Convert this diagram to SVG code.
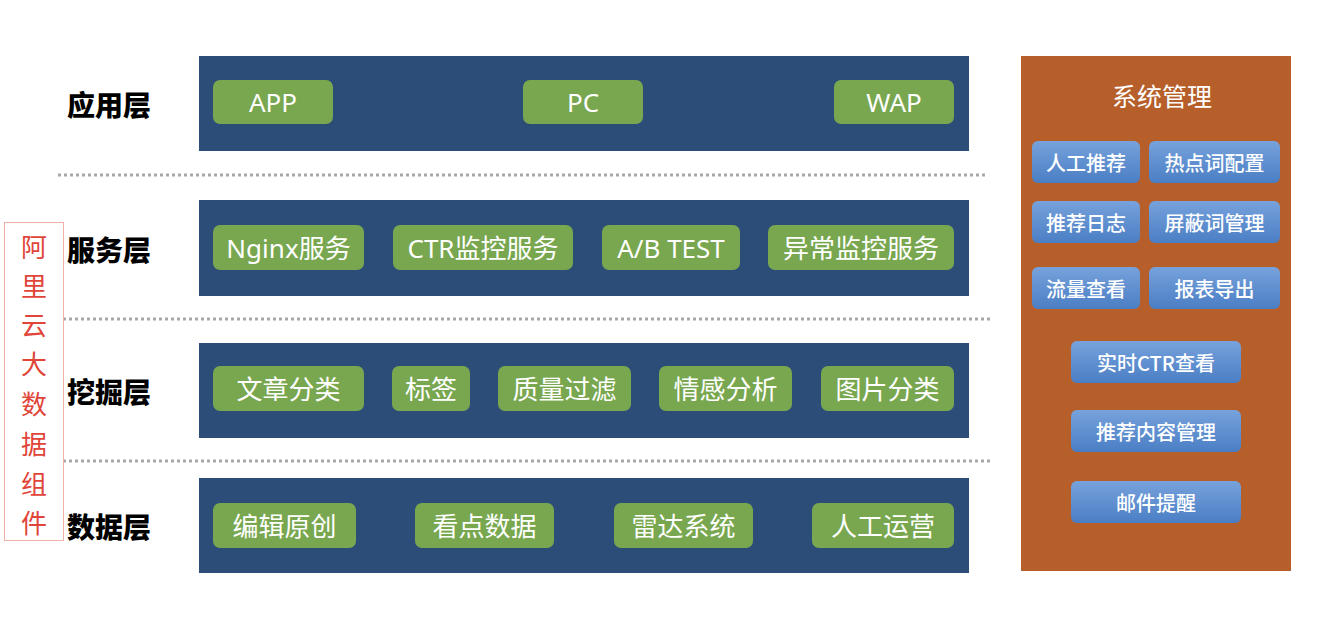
<svg xmlns="http://www.w3.org/2000/svg" width="1324" height="628" viewBox="0 0 1324 628">
<defs>
<linearGradient id="bg" x1="0" y1="0" x2="0" y2="1">
<stop offset="0" stop-color="#77a2dc"/>
<stop offset="1" stop-color="#4a7ec4"/>
</linearGradient>
<style>
.layer{fill:#2c4d77;}
.g{fill:#78a74f;}
.gt{fill:#fff;font-family:"Noto Sans","Noto Sans CJK SC",sans-serif;font-size:26px;text-anchor:middle;dominant-baseline:central;}
.lbl{fill:#000;font-family:"Noto Sans CJK SC",sans-serif;font-size:28px;font-weight:900;dominant-baseline:central;}
.red{fill:#e0453a;font-family:"Noto Sans CJK SC",sans-serif;font-size:26px;text-anchor:middle;dominant-baseline:central;}
.b{fill:url(#bg);}
.bt{fill:#fff;font-family:"Noto Sans CJK SC",sans-serif;font-size:20px;font-weight:500;text-anchor:middle;dominant-baseline:central;}
.title{fill:#fff;font-family:"Noto Sans CJK SC",sans-serif;font-size:25px;text-anchor:middle;dominant-baseline:central;}
.dot{stroke:#a8a8a8;stroke-width:3;stroke-dasharray:3 3;fill:none;}
</style>
</defs>
<rect width="1324" height="628" fill="#fff"/>
<g id="separators">
<line class="dot" x1="58" y1="175" x2="985" y2="175"/>
<line class="dot" x1="63" y1="319" x2="990" y2="319"/>
<line class="dot" x1="63" y1="461" x2="990" y2="461"/>
</g>
<g id="aliyun">
<rect x="4.5" y="222.5" width="59" height="318" fill="#fff" stroke="#f0b0aa" stroke-width="1"/>
<text class="red" x="34" y="245">阿</text>
<text class="red" x="34" y="284">里</text>
<text class="red" x="34" y="323">云</text>
<text class="red" x="34" y="362">大</text>
<text class="red" x="34" y="402">数</text>
<text class="red" x="34" y="442">据</text>
<text class="red" x="34" y="482">组</text>
<text class="red" x="34" y="521">件</text>
</g>
<g id="layer-app">
<text class="lbl" x="67" y="104">应用层</text>
<rect class="layer" x="199" y="56" width="770" height="95"/>
<rect class="g" x="213" y="80" width="120" height="44" rx="7"/><text class="gt" x="273" y="102">APP</text>
<rect class="g" x="523" y="80" width="120" height="44" rx="7"/><text class="gt" x="583" y="102">PC</text>
<rect class="g" x="834" y="80" width="120" height="44" rx="7"/><text class="gt" x="894" y="102">WAP</text>
</g>
<g id="layer-service">
<text class="lbl" x="67" y="249">服务层</text>
<rect class="layer" x="199" y="200" width="770" height="96"/>
<rect class="g" x="213" y="225" width="151" height="45" rx="7"/><text class="gt" x="288.5" y="247.5">Nginx服务</text>
<rect class="g" x="393" y="225" width="180" height="45" rx="7"/><text class="gt" x="483" y="247.5">CTR监控服务</text>
<rect class="g" x="602" y="225" width="138" height="45" rx="7"/><text class="gt" x="671" y="247.5">A/B TEST</text>
<rect class="g" x="768" y="225" width="186" height="45" rx="7"/><text class="gt" x="861" y="247.5">异常监控服务</text>
</g>
<g id="layer-mining">
<text class="lbl" x="67" y="391">挖掘层</text>
<rect class="layer" x="199" y="343" width="770" height="95"/>
<rect class="g" x="213" y="366" width="151" height="45" rx="7"/><text class="gt" x="288.5" y="388.5">文章分类</text>
<rect class="g" x="392" y="366" width="78" height="45" rx="7"/><text class="gt" x="431" y="388.5">标签</text>
<rect class="g" x="498" y="366" width="133" height="45" rx="7"/><text class="gt" x="564.5" y="388.5">质量过滤</text>
<rect class="g" x="659" y="366" width="133" height="45" rx="7"/><text class="gt" x="725.5" y="388.5">情感分析</text>
<rect class="g" x="821" y="366" width="133" height="45" rx="7"/><text class="gt" x="887.5" y="388.5">图片分类</text>
</g>
<g id="layer-data">
<text class="lbl" x="67" y="526">数据层</text>
<rect class="layer" x="199" y="478" width="770" height="95"/>
<rect class="g" x="213" y="503" width="143" height="45" rx="7"/><text class="gt" x="284.5" y="525.5">编辑原创</text>
<rect class="g" x="415" y="503" width="139" height="45" rx="7"/><text class="gt" x="484.5" y="525.5">看点数据</text>
<rect class="g" x="614" y="503" width="139" height="45" rx="7"/><text class="gt" x="683.5" y="525.5">雷达系统</text>
<rect class="g" x="812" y="503" width="142" height="45" rx="7"/><text class="gt" x="883" y="525.5">人工运营</text>
</g>
<g id="system-mgmt">
<rect x="1021" y="56" width="270" height="515" fill="#b65f2b"/>
<text class="title" x="1162" y="95">系统管理</text>
<rect class="b" x="1032" y="141" width="108" height="42" rx="6"/><text class="bt" x="1086" y="162">人工推荐</text>
<rect class="b" x="1149" y="141" width="131" height="42" rx="6"/><text class="bt" x="1214.5" y="162">热点词配置</text>
<rect class="b" x="1032" y="201" width="108" height="42" rx="6"/><text class="bt" x="1086" y="222">推荐日志</text>
<rect class="b" x="1149" y="201" width="131" height="42" rx="6"/><text class="bt" x="1214.5" y="222">屏蔽词管理</text>
<rect class="b" x="1032" y="267" width="108" height="42" rx="6"/><text class="bt" x="1086" y="288">流量查看</text>
<rect class="b" x="1149" y="267" width="131" height="42" rx="6"/><text class="bt" x="1214.5" y="288">报表导出</text>
<rect class="b" x="1071" y="341" width="170" height="42" rx="6"/><text class="bt" x="1156" y="362">实时CTR查看</text>
<rect class="b" x="1071" y="410" width="170" height="42" rx="6"/><text class="bt" x="1156" y="431">推荐内容管理</text>
<rect class="b" x="1071" y="481" width="170" height="42" rx="6"/><text class="bt" x="1156" y="502">邮件提醒</text>
</g>
</svg>
